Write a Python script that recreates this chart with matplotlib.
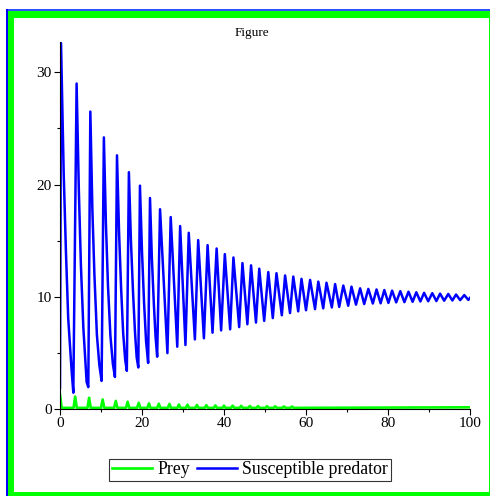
import numpy as np
import matplotlib
matplotlib.use("Agg")
import matplotlib.pyplot as plt
from matplotlib.patches import Rectangle
from matplotlib.ticker import MultipleLocator

plt.rcParams["font.family"] = ["Liberation Serif", "DejaVu Serif"]

# predator: peaks, troughs and a few points on the early descents
peak_t = [0.25, 4.05, 7.4, 10.7, 13.9, 16.8, 19.5, 21.95, 24.4, 27.0, 29.3, 31.4, 33.7,
          36.0, 38.2, 40.2, 42.3, 44.5, 46.6, 48.6, 50.8, 52.8, 54.9, 56.9, 58.9, 61.0,
          63.0, 65.0, 67.1, 69.1, 71.1, 73.2, 75.2, 77.2, 79.1, 81.0, 83.0, 85.0, 86.9,
          88.8, 90.8, 92.7, 94.7, 96.6, 98.6]
peak_v = [32.6, 29.0, 26.5, 24.2, 22.6, 21.1, 19.9, 18.8, 17.8, 17.1, 16.3, 15.7, 15.05,
          14.6, 14.3, 13.8, 13.5, 13.0, 12.8, 12.5, 12.2, 12.1, 11.9, 11.8, 11.6, 11.5,
          11.35, 11.25, 11.13, 11.0, 10.9, 10.75, 10.7, 10.65, 10.6, 10.55, 10.5, 10.45, 10.4,
          10.35, 10.32, 10.28, 10.25, 10.2, 10.15]
trough_t = [3.25, 6.9, 10.15, 13.4, 16.3, 19.1, 21.5, 23.7, 26.2, 28.6, 30.6, 32.9, 35.1,
            37.2, 39.3, 41.5, 43.7, 45.7, 47.8, 49.8, 51.9, 54.1, 56.1, 58.1, 60.0, 62.2,
            64.2, 66.3, 68.1, 70.3, 72.2, 74.2, 76.3, 78.2, 80.1, 82.0, 84.0, 86.0, 87.9,
            89.8, 91.8, 93.7, 95.7, 97.6, 99.6]
trough_v = [1.45, 1.95, 2.5, 2.85, 3.4, 3.7, 4.1, 4.66, 4.98, 5.55, 5.7, 6.2, 6.3,
            6.8, 7.0, 7.1, 7.3, 7.55, 7.7, 7.85, 8.1, 8.35, 8.55, 8.7, 8.8, 8.9,
            8.97, 9.05, 9.1, 9.2, 9.3, 9.35, 9.4, 9.42, 9.45, 9.5, 9.52, 9.55, 9.58,
            9.6, 9.62, 9.65, 9.67, 9.7, 9.72]
knee_t = [0.0, 0.9, 1.45, 2.0, 2.8, 4.6, 5.1, 5.7, 6.5, 7.9, 8.4, 9.0, 9.6,
          11.2, 11.7, 12.3, 12.9, 14.4, 14.9, 15.4, 15.9, 17.3, 17.8, 18.3, 18.7,
          20.0, 20.5, 21.0, 22.4, 22.9, 23.3, 100.0]
knee_v = [1.9, 21.0, 14.0, 8.1, 3.6, 19.4, 12.8, 7.2, 2.4, 17.7, 11.9, 6.6, 3.9,
          16.5, 11.0, 6.5, 4.0, 15.8, 10.8, 6.8, 4.4, 15.0, 10.5, 6.8, 4.6,
          14.0, 9.5, 6.0, 13.5, 9.3, 6.5, 9.9]

# prey: small spikes near zero
spike_t = [3.7, 7.1, 10.4, 13.6, 16.5, 19.2, 21.7, 24.1, 26.7, 29.0, 31.1, 33.4, 35.7,
           37.9, 40.0, 42.1, 44.2, 46.3, 48.3, 50.5, 52.5, 54.6, 56.6]
spike_v = [1.1, 1.0, 0.85, 0.72, 0.65, 0.55, 0.5, 0.47, 0.45, 0.4, 0.38, 0.36, 0.34,
           0.32, 0.3, 0.3, 0.28, 0.27, 0.26, 0.25, 0.24, 0.23, 0.22]
prey_start = (0.0, 1.3)
prey_base = 0.1
prey_end = (100.0, 0.15)

pred_t = np.array(peak_t + trough_t + knee_t)
pred_v = np.array(peak_v + trough_v + knee_v)
order = np.argsort(pred_t)
pred_t, pred_v = pred_t[order], pred_v[order]

prey_t = [prey_start[0], 0.4]
prey_v = [prey_start[1], prey_base]
for t, v in zip(spike_t, spike_v):
    prey_t += [t - 0.4, t, t + 0.4]
    prey_v += [prey_base, v, prey_base]
prey_t.append(prey_end[0])
prey_v.append(prey_end[1])

W, H = 490, 496
fig = plt.figure(figsize=(W / 100, H / 100), dpi=100)
ax = fig.add_axes([60 / W, 1 - 409 / H, 410 / W, (409 - 42) / H])

ax.plot(prey_t, prey_v, color="#00ff00", lw=1.9, label="Prey")
ax.plot(pred_t, pred_v, color="#0000ff", lw=1.8, label="Susceptible predator")

ax.set_xlim(0, 100)
ax.set_ylim(0, 32.7)
for s in ["top", "right"]:
    ax.spines[s].set_visible(False)
ax.xaxis.set_major_locator(MultipleLocator(20))
ax.xaxis.set_minor_locator(MultipleLocator(10))
ax.yaxis.set_major_locator(MultipleLocator(10))
ax.yaxis.set_minor_locator(MultipleLocator(5))
ax.tick_params(which="major", length=4, width=0.8, labelsize=11, pad=2)
ax.tick_params(which="minor", length=2.5, width=0.8)

fig.text(252 / W, 1 - 33 / H, "Figure", ha="center", va="center", fontsize=9.5)

leg = fig.legend(loc="center", bbox_to_anchor=(250 / W, 1 - 470 / H), ncol=2,
                 fontsize=12.8, frameon=True, fancybox=False, handlelength=2.25,
                 handletextpad=0.3, columnspacing=0.4, borderpad=0.15,
                 borderaxespad=0, edgecolor="black")
leg.get_frame().set_linewidth(0.8)

# window frame
def px_rect(x0, y0, x1, y1, color):
    fig.add_artist(Rectangle((x0 / W, 1 - y1 / H), (x1 - x0) / W, (y1 - y0) / H,
                             transform=fig.transFigure, color=color, lw=0, zorder=5))

px_rect(6, 9, 490, 11, "#3050ff")
px_rect(6, 9, 7.5, 496, "#0000ff")
px_rect(7.5, 11, 490, 17.5, "#00ff00")
px_rect(7.5, 11, 14, 496, "#00ff00")
px_rect(488.5, 11, 490, 496, "#00ff00")
px_rect(7.5, 492, 490, 496, "#00ff00")

fig.savefig("out.png", dpi=100)
